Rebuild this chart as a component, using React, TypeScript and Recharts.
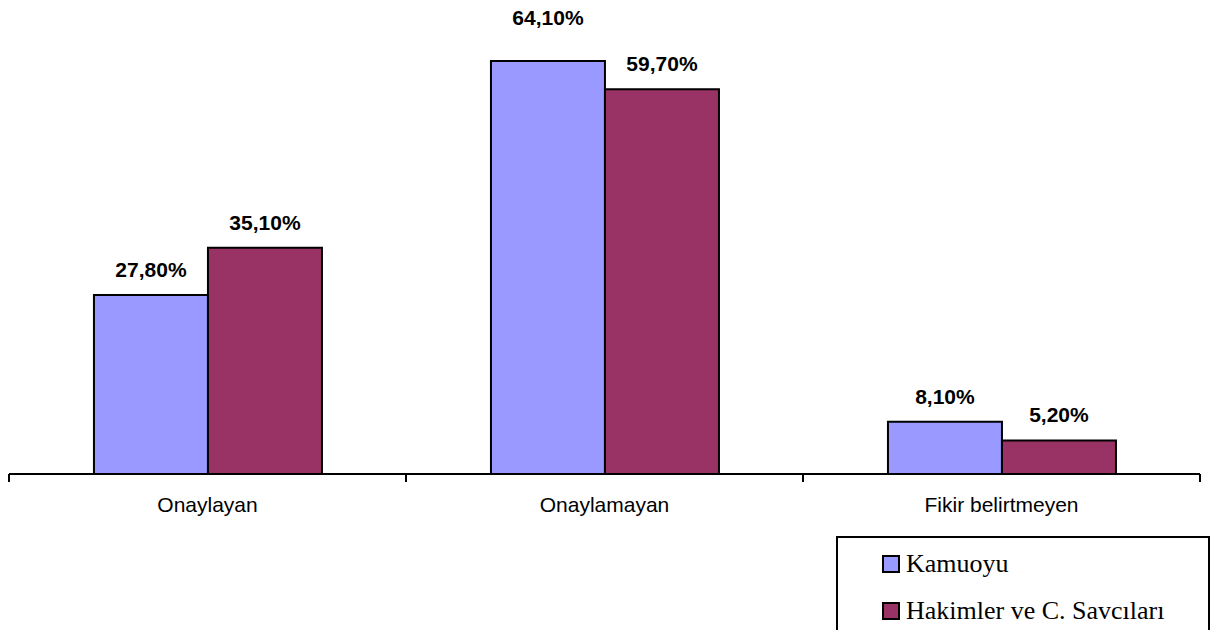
import React from 'react';
import { BarChart, Bar, XAxis, YAxis, LabelList, Legend } from 'recharts';

const categories = ['Onaylayan', 'Onaylamayan', 'Fikir belirtmeyen'];
const kamuoyu = [27.8, 64.1, 8.1];
const hakimler = [35.1, 59.7, 5.2];
const seriesNames = ['Kamuoyu', 'Hakimler ve C. Savcıları'];
const seriesColors = ['#9999FF', '#993366'];
const yMax = 70;

const data = categories.map((c, i) => ({ name: c, kamuoyu: kamuoyu[i], hakimler: hakimler[i] }));

const W = 1216;
const H = 630;
const M = { top: 23, right: 16, left: 9, bottom: 126 };
const SANS = '"Liberation Sans", Arial, sans-serif';
const SERIF = '"Liberation Serif", "Times New Roman", serif';

const fmt = (v: number) => v.toFixed(2).replace('.', ',') + '%';

const makeLabel = (extraLift: number[]) => (p: any) => {
  const { x, y, width, value, index } = p;
  const lift = 18 + (extraLift[index] || 0);
  return (
    <text
      x={Number(x) + Number(width) / 2}
      y={Number(y) - lift}
      textAnchor="middle"
      fontFamily={SANS}
      fontWeight="bold"
      fontSize={21}
      fill="#000"
    >
      {fmt(Number(value))}
    </text>
  );
};

const bandHalfFallback = (W - M.left - M.right) / categories.length / 2;

const CatTick = (props: any) => {
  const { x, y, payload, index } = props;
  const half = payload && typeof payload.offset === 'number' && payload.offset > 0 ? payload.offset : bandHalfFallback;
  const last = index === categories.length - 1;
  return (
    <g>
      <line x1={x - half} x2={x - half} y1={y} y2={y + 8} stroke="#000" strokeWidth={2} />
      {last && <line x1={x + half} x2={x + half} y1={y} y2={y + 8} stroke="#000" strokeWidth={2} />}
      <text x={x} y={y + 38} textAnchor="middle" fontFamily={SANS} fontSize={21} fill="#000">
        {payload.value}
      </text>
    </g>
  );
};

const LegendBox = () => (
  <div
    style={{
      width: 370,
      height: 92,
      border: '2px solid #000',
      borderBottom: 'none',
      background: '#fff',
      position: 'relative',
      fontFamily: SERIF,
      fontSize: 26,
      color: '#000',
    }}
  >
    {seriesNames.map((n, i) => (
      <div
        key={n}
        style={{ position: 'absolute', left: 44, top: 11 + i * 47, height: 30, display: 'flex', alignItems: 'center', whiteSpace: 'nowrap' }}
      >
        <span
          style={{
            display: 'inline-block',
            width: 14,
            height: 14,
            border: '2px solid #000',
            background: seriesColors[i],
            marginRight: 6,
          }}
        />
        <span style={{ lineHeight: '30px' }}>{n}</span>
      </div>
    ))}
  </div>
);

export default function App() {
  return (
    <div style={{ position: 'fixed', left: 0, top: 0, width: W, height: H, background: '#fff' }}>
      <BarChart width={W} height={H} data={data} margin={M} barCategoryGap="21.4%" barGap={0}>
        <XAxis
          dataKey="name"
          axisLine={{ stroke: '#000', strokeWidth: 2 }}
          tickLine={false}
          tickSize={0}
          tickMargin={0}
          tick={<CatTick />}
          interval={0}
        />
        <YAxis hide domain={[0, yMax]} />
        <Legend
          layout="vertical"
          align="center"
          verticalAlign="middle"
          wrapperStyle={{ position: 'absolute', left: 836, top: 536, width: 374 }}
          content={() => <LegendBox />}
        />
        <Bar dataKey="kamuoyu" name={seriesNames[0]} fill={seriesColors[0]} stroke="#000" strokeWidth={2} isAnimationActive={false}>
          <LabelList dataKey="kamuoyu" content={makeLabel([0, 18, 0])} />
        </Bar>
        <Bar dataKey="hakimler" name={seriesNames[1]} fill={seriesColors[1]} stroke="#000" strokeWidth={2} isAnimationActive={false}>
          <LabelList dataKey="hakimler" content={makeLabel([0, 0, 0])} />
        </Bar>
      </BarChart>
    </div>
  );
}
